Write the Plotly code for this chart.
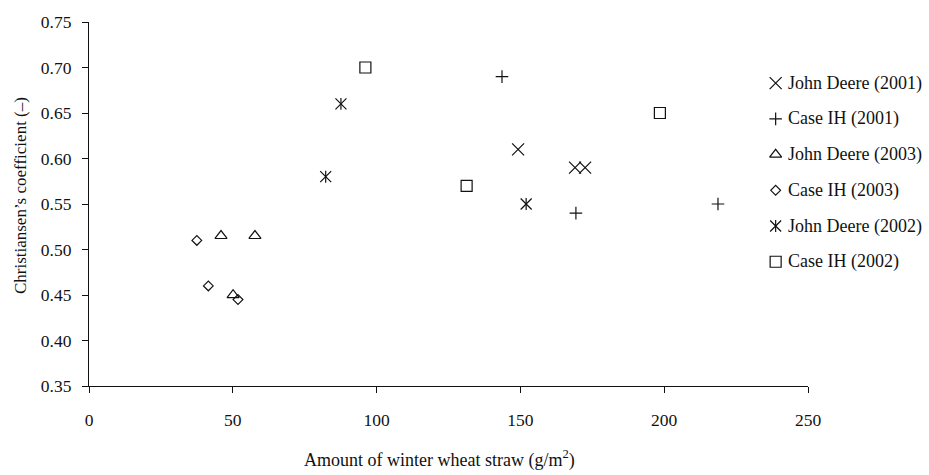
import plotly.graph_objects as go

# ---- data ----
jd2001_x = [149.2, 169.0, 172.5]
jd2001_y = [0.61, 0.59, 0.59]
ci2001_x = [143.6, 169.3, 218.7]
ci2001_y = [0.69, 0.54, 0.55]
jd2003_x = [45.9, 57.7, 50.1]
jd2003_y = [0.515, 0.515, 0.45]
ci2003_x = [37.5, 41.5, 51.8]
ci2003_y = [0.51, 0.46, 0.445]
jd2002_x = [87.6, 82.3, 152.0]
jd2002_y = [0.66, 0.58, 0.55]
ci2002_x = [96.1, 131.3, 198.5]
ci2002_y = [0.70, 0.57, 0.65]

series_names = ["John Deere (2001)", "Case IH (2001)", "John Deere (2003)",
                "Case IH (2003)", "John Deere (2002)", "Case IH (2002)"]
x_ticks = [0, 50, 100, 150, 200, 250]
y_ticks = [0.35, 0.40, 0.45, 0.50, 0.55, 0.60, 0.65, 0.70, 0.75]

FONT = "Liberation Serif"
BLACK = "#111111"

# marker styles: (symbol, size, overlay symbol, overlay size)
styles = [
    ("x-thin-open", 12, None, None),
    ("cross-thin-open", 9, None, None),
    ("triangle-up-open", 10.5, None, None),
    ("diamond-open", 7.5, None, None),
    ("x-thin-open", 11, "line-ns-open", 8.5),
    ("square-open", 11, None, None),
]
data = [(jd2001_x, jd2001_y), (ci2001_x, ci2001_y), (jd2003_x, jd2003_y),
        (ci2003_x, ci2003_y), (jd2002_x, jd2002_y), (ci2002_x, ci2002_y)]

fig = go.Figure()

for (xs, ys), (sym, sz, osym, osz), name in zip(data, styles, series_names):
    fig.add_trace(go.Scatter(
        x=xs, y=ys, mode="markers", name=name, showlegend=False,
        marker=dict(symbol=sym, size=sz, color=BLACK, line=dict(width=1.2, color=BLACK)),
        cliponaxis=False))
    if osym:
        fig.add_trace(go.Scatter(
            x=xs, y=ys, mode="markers", showlegend=False, hoverinfo="skip",
            marker=dict(symbol=osym, size=osz, color=BLACK, line=dict(width=1.2, color=BLACK)),
            cliponaxis=False))

# ---- manual legend on an overlay axis ----
legend_x = 0.955
legend_text_x = 0.970
annotations = []
for i, ((sym, sz, osym, osz), name) in enumerate(zip(styles, series_names)):
    fig.add_trace(go.Scatter(
        x=[legend_x], y=[-i], mode="markers",
        marker=dict(symbol=sym, size=sz, color=BLACK, line=dict(width=1.2, color=BLACK)),
        xaxis="x2", yaxis="y2", showlegend=False, hoverinfo="skip", cliponaxis=False))
    if osym:
        fig.add_trace(go.Scatter(
            x=[legend_x], y=[-i], mode="markers",
            marker=dict(symbol=osym, size=osz, color=BLACK, line=dict(width=1.2, color=BLACK)),
            xaxis="x2", yaxis="y2", showlegend=False, hoverinfo="skip", cliponaxis=False))
    annotations.append(dict(
        x=legend_text_x, y=-i, xref="x2", yref="y2", text=name, showarrow=False,
        xanchor="left", yanchor="middle", font=dict(family=FONT, size=18, color=BLACK)))

annotations.append(dict(
    x=(439 - 89) / 719, y=-0.200, xref="paper", yref="paper",
    text="Amount of winter wheat straw (g/m<sup>2</sup>)", showarrow=False,
    xanchor="center", yanchor="middle", font=dict(family=FONT, size=18, color=BLACK)))
annotations.append(dict(
    x=-0.096, y=(386 - 192.5) / 369, xref="paper", yref="paper",
    text="Christiansen\u2019s coefficient (\u2013)", showarrow=False, textangle=-90,
    xanchor="center", yanchor="middle", font=dict(family=FONT, size=17, color=BLACK)))

fig.update_layout(
    width=929, height=475,
    margin=dict(l=89, r=121, t=17, b=89),
    paper_bgcolor="white", plot_bgcolor="white",
    font=dict(family=FONT, size=17.5, color=BLACK),
    annotations=annotations,
    xaxis=dict(
        range=[0, 250], tickvals=x_ticks, ticktext=[str(v) for v in x_ticks],
        showgrid=False, zeroline=False, showline=True, linecolor=BLACK, linewidth=1.2,
        ticks="outside", ticklen=6, tickcolor=BLACK, tickwidth=1.2,
        ticklabelstandoff=12,
    ),
    yaxis=dict(
        range=[0.35, 0.75], tickvals=y_ticks, ticktext=[f"{v:.2f}" for v in y_ticks],
        showgrid=False, zeroline=False, showline=True, linecolor=BLACK, linewidth=1.2,
        ticks="outside", ticklen=6, tickcolor=BLACK, tickwidth=1.2,
        ticklabelstandoff=7,
    ),
    xaxis2=dict(overlaying="x", range=[0, 1], visible=False, fixedrange=True),
    yaxis2=dict(overlaying="y", range=[-8.48, 1.713], visible=False, fixedrange=True),
)

fig.write_html("out.html")
